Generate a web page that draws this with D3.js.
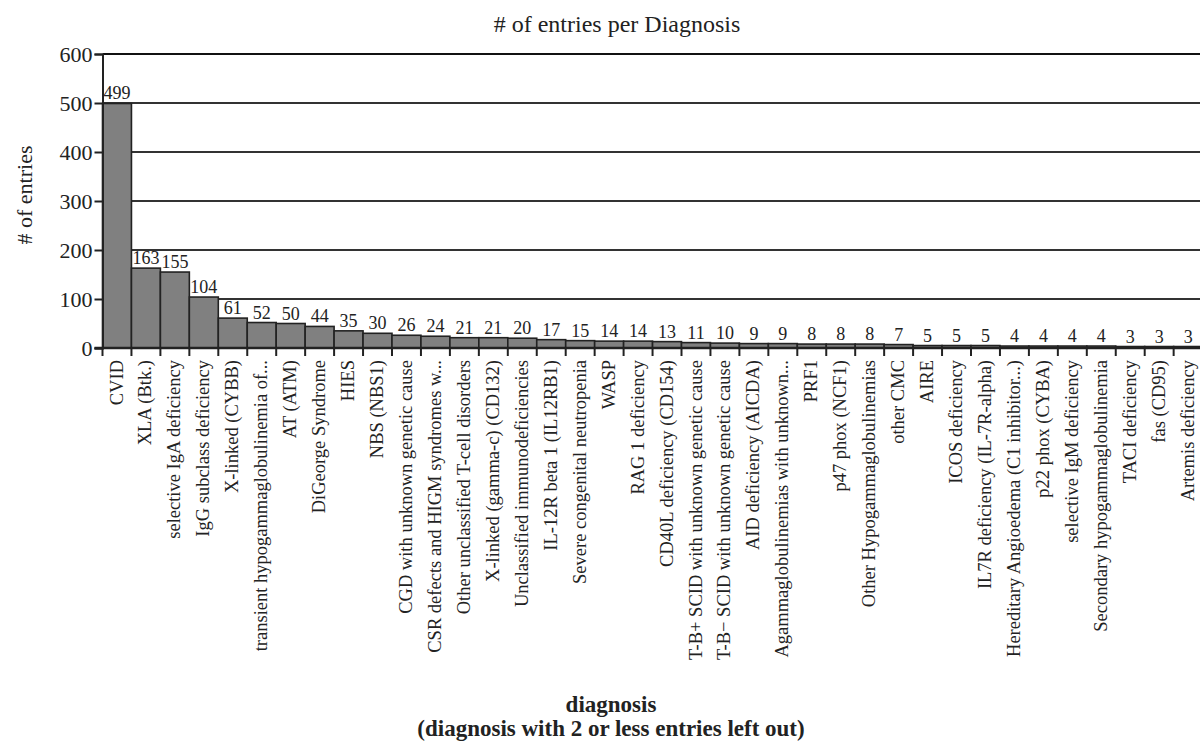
<!DOCTYPE html>
<html>
<head>
<meta charset="utf-8">
<script src="https://cdnjs.cloudflare.com/ajax/libs/d3/7.8.5/d3.min.js"></script>
<style>
  body { margin: 0; background: #fff; }
  svg { display: block; }
  svg text { font-family: "Liberation Serif", "Times New Roman", serif; }
</style>
</head>
<body>
<div id="chart"></div>
<script>
//-----------------------------DATA-----------------------------//
const diagnoses = [
    "CVID", "XLA (Btk.)", "selective IgA deficiency", "IgG subclass deficiency",
    "X-linked (CYBB)", "transient hypogammaglobulinemia of...", "AT (ATM)",
    "DiGeorge Syndrome", "HIES", "NBS (NBS1)", "CGD with unknown genetic cause",
    "CSR defects and HIGM syndromes w...", "Other unclassified T-cell disorders",
    "X-linked (gamma-c) (CD132)", "Unclassified immunodeficiencies",
    "IL-12R beta 1 (IL12RB1)", "Severe congenital neutropenia", "WASP",
    "RAG 1 deficiency", "CD40L deficiency (CD154)",
    "T-B+ SCID with unknown genetic cause", "T-B\u2212 SCID with unknown genetic cause",
    "AID deficiency (AICDA)", "Agammaglobulinemias with unknown...", "PRF1",
    "p47 phox (NCF1)", "Other Hypogammaglobulinemias", "other CMC", "AIRE",
    "ICOS deficiency", "IL7R deficiency (IL-7R-alpha)",
    "Hereditary Angioedema (C1 inhibitor...)", "p22 phox (CYBA)",
    "selective IgM deficiency", "Secondary hypogammaglobulinemia",
    "TACI deficiency", "fas (CD95)", "Artemis deficiency"
];
const entries = [
    499, 163, 155, 104, 61, 52, 50, 44, 35, 30, 26, 24, 21, 21, 20, 17, 15, 14, 14, 13,
    11, 10, 9, 9, 8, 8, 8, 7, 5, 5, 5, 4, 4, 4, 4, 3, 3, 3
];
const yTicks = [0, 100, 200, 300, 400, 500, 600];

//-----------------------------SVG------------------------------//
const width = 1200;
const height = 745;
const plotLeft = 102.5;
const step = 28.95;
const plotTop = 54;
const plotBottom = 348;
const serif = "'Liberation Serif', 'Times New Roman', serif";

const svg = d3.select("div#chart").append("svg")
    .attr("width", width)
    .attr("height", height);

//----------------------------SCALES----------------------------//
const xScale = d3.scaleBand()
    .domain(diagnoses)
    .range([plotLeft, plotLeft + diagnoses.length * step])
    .padding(0);
const yScale = d3.scaleLinear().domain([0, 600]).range([plotBottom, plotTop]);

//----------------------------GRID------------------------------//
svg.append("g")
    .selectAll("line")
    .data(yTicks.slice(1))
    .enter()
    .append("line")
    .attr("x1", plotLeft)
    .attr("x2", width)
    .attr("y1", d => yScale(d))
    .attr("y2", d => yScale(d))
    .attr("stroke", d => d === 600 ? "#111" : "#333")
    .attr("stroke-width", 2);

//----------------------------BARS------------------------------//
const data = diagnoses.map((d, i) => ({ name: d, value: entries[i] }));

svg.append("g")
    .selectAll("rect")
    .data(data)
    .enter()
    .append("rect")
    .attr("x", d => xScale(d.name))
    .attr("y", d => yScale(d.value))
    .attr("width", xScale.bandwidth())
    .attr("height", d => plotBottom - yScale(d.value))
    .attr("fill", "#808080")
    .attr("stroke", "#222")
    .attr("stroke-width", 1.6);

svg.append("g")
    .selectAll("text")
    .data(data)
    .enter()
    .append("text")
    .attr("x", d => xScale(d.name) + xScale.bandwidth() / 2)
    .attr("y", d => yScale(d.value) - 4)
    .attr("text-anchor", "middle")
    .style("font-family", serif)
    .attr("font-size", 18)
    .attr("fill", "#222")
    .text(d => d.value);

//-----------------------------AXES-----------------------------//
const yaxis = d3.axisLeft(yScale)
    .tickValues(yTicks)
    .tickSize(8)
    .tickPadding(2);

const gy = svg.append("g")
    .attr("transform", "translate(" + plotLeft + ",0)")
    .call(yaxis);
gy.select(".domain").attr("stroke", "#222").attr("stroke-width", 2);
gy.selectAll(".tick line").attr("stroke", "#222").attr("stroke-width", 2);
gy.selectAll(".tick text")
    .style("font-family", serif)
    .attr("font-size", 22)
    .attr("fill", "#222");

// x axis with ticks at the band edges
svg.append("line")
    .attr("x1", plotLeft - 8)
    .attr("x2", width)
    .attr("y1", plotBottom)
    .attr("y2", plotBottom)
    .attr("stroke", "#222")
    .attr("stroke-width", 2.5);

svg.append("g")
    .selectAll("line")
    .data(diagnoses)
    .enter()
    .append("line")
    .attr("x1", d => xScale(d))
    .attr("x2", d => xScale(d))
    .attr("y1", plotBottom)
    .attr("y2", plotBottom + 8)
    .attr("stroke", "#222")
    .attr("stroke-width", 2);

svg.append("g")
    .selectAll("text")
    .data(diagnoses)
    .enter()
    .append("text")
    .attr("transform", d => "translate(" + (xScale(d) + xScale.bandwidth() / 2) + "," + (plotBottom + 12) + ") rotate(-90)")
    .attr("dy", "0.3em")
    .attr("text-anchor", "end")
    .style("font-family", serif)
    .attr("font-size", 18.5)
    .attr("fill", "#222")
    .text(d => d);

//----------------------------TITLES----------------------------//
svg.append("text")
    .attr("x", 617)
    .attr("y", 32)
    .attr("text-anchor", "middle")
    .style("font-family", serif)
    .attr("font-size", 24)
    .attr("fill", "#222")
    .text("# of entries per Diagnosis");

svg.append("text")
    .attr("transform", "translate(32," + ((plotTop + plotBottom) / 2 - 6) + ") rotate(-90)")
    .attr("text-anchor", "middle")
    .style("font-family", serif)
    .attr("font-size", 22)
    .attr("fill", "#222")
    .text("# of entries");

const xTitle = svg.append("text")
    .attr("text-anchor", "middle")
    .style("font-family", serif)
    .attr("font-size", 23)
    .attr("font-weight", "bold")
    .attr("fill", "#222");
xTitle.append("tspan").attr("x", 611).attr("y", 712).text("diagnosis");
xTitle.append("tspan").attr("x", 611).attr("y", 736).text("(diagnosis with 2 or less entries left out)");
</script>
</body>
</html>
